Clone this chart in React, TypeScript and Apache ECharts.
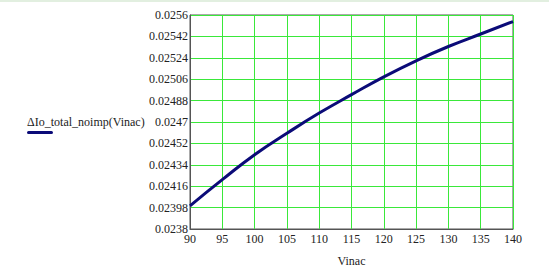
import React, { useEffect, useRef } from "react";
import * as echarts from "echarts";

const vinac: number[] = [90, 95, 100, 105, 110, 115, 120, 125, 130, 135, 140];
const deltaIo: number[] = [
  0.023995, 0.024215, 0.024425, 0.024605, 0.024775, 0.02493, 0.02508, 0.025215,
  0.025335, 0.02544, 0.025545,
];
const yMin = 0.0238;
const yMax = 0.0256;
const yStep = 0.00018;
const xMin = 90;
const xMax = 140;
const xStep = 5;
const seriesName = "\u0394Io_total_noimp(Vinac)";
const xName = "Vinac";

const FONT = "Times New Roman, Liberation Serif, DejaVu Serif, serif";

export default function App() {
  const ref = useRef<HTMLDivElement>(null);
  useEffect(() => {
    if (!ref.current) return;
    const chart = echarts.init(ref.current, null, { renderer: "svg" });
    const data = vinac.map((x, i) => [x, deltaIo[i] - yMin]);
    chart.setOption({
      animation: false,
      backgroundColor: "#ffffff",
      textStyle: { fontFamily: FONT },
      grid: {
        left: 190,
        top: 15,
        right: 36,
        bottom: 45,
        show: true,
        borderColor: "#555555",
        borderWidth: 1,
        backgroundColor: "transparent",
      },
      xAxis: {
        type: "value",
        min: xMin,
        max: xMax,
        interval: xStep,
        name: xName,
        nameLocation: "middle",
        nameGap: 26,
        nameTextStyle: { fontFamily: FONT, fontSize: 12, color: "#222" },
        axisLine: { show: true, lineStyle: { color: "#555555", width: 1 } },
        axisTick: { show: false },
        axisLabel: { fontFamily: FONT, fontSize: 12, color: "#222", margin: 4 },
        splitLine: { show: true, lineStyle: { color: "#3ae83a", width: 1 } },
      },
      yAxis: {
        type: "value",
        min: 0,
        max: yMax - yMin,
        interval: yStep,
        axisLine: { show: true, lineStyle: { color: "#555555", width: 1 } },
        axisTick: { show: false },
        axisLabel: {
          fontFamily: FONT,
          fontSize: 12,
          color: "#222",
          margin: 2,
          formatter: (v: number) => String(parseFloat((v + yMin).toFixed(5))),
        },
        splitLine: { show: true, lineStyle: { color: "#3ae83a", width: 1 } },
      },
      series: [
        {
          name: seriesName,
          type: "line",
          data,
          smooth: true,
          symbol: "none",
          lineStyle: { color: "#0b0b78", width: 3 },
        },
      ],
      graphic: [
        {
          type: "rect",
          shape: { x: 0, y: 0, width: 549, height: 2 },
          style: { fill: "#e2efe0" },
          silent: true,
        },
        {
          type: "text",
          left: 27,
          top: 116,
          style: {
            text: seriesName,
            fontFamily: FONT,
            fontSize: 12,
            fill: "#222",
          },
        },
        {
          type: "rect",
          shape: { x: 27, y: 131, width: 26, height: 3, r: 1.5 },
          style: { fill: "#0b0b78" },
        },
      ],
    });
    return () => chart.dispose();
  }, []);
  return (
    <div
      ref={ref}
      style={{ position: "fixed", left: 0, top: 0, width: 549, height: 274 }}
    />
  );
}
